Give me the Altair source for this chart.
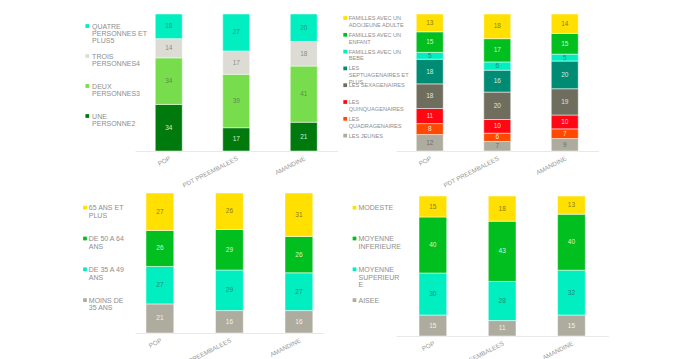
import altair as alt
import pandas as pd

FONT = "Liberation Sans"

cats = ["POP", "PDT PREEMBALEES", "AMANDINE"]

# colours
TURQ = "#00EEC0"
LTGRAY = "#DCDCD5"
LTGREEN = "#77DD4C"
DKGREEN = "#007A0C"
YELLOW = "#FFE000"
GREEN = "#00BF1E"
TEAL = "#008C74"
DKGRAY = "#6E6D5E"
RED = "#FF0814"
ORANGE = "#FF4800"
GRAY = "#AEAC9E"

# ---- panel 1 : taille du foyer (bottom -> top)
p1_series = ["UNE|PERSONNE2", "DEUX|PERSONNES3", "TROIS|PERSONNES4", "QUATRE|PERSONNES ET|PLUS5"]
p1_values = [[34, 17, 21], [34, 39, 41], [14, 17, 18], [18, 27, 20]]
p1_colors = [DKGREEN, LTGREEN, LTGRAY, TURQ]
p1_lcolors = ["#d2ecd2", "#5f8f4a", "#8c8c88", "#2f8f7f"]

# ---- panel 2 : cycle de vie
p2_series = ["LES JEUNES", "LES|QUADRAGENAIRES", "LES|QUINQUAGENAIRES", "LES SEXAGENAIRES",
             "LES|SEPTUAGENAIRES ET|PLUS", "FAMILLES AVEC UN|BEBE", "FAMILLES AVEC UN|ENFANT",
             "FAMILLES AVEC UN|ADO/JEUNE ADULTE"]
p2_values = [[12, 7, 9], [8, 6, 7], [11, 10, 10], [18, 20, 19], [18, 16, 20], [5, 6, 5],
             [15, 17, 15], [13, 18, 14]]
p2_colors = [GRAY, ORANGE, RED, DKGRAY, TEAL, TURQ, GREEN, YELLOW]
p2_lcolors = ["#6e6e66", "#ffe6c8", "#ffd6d6", "#e2e2da", "#c8efe6", "#1f8a78", "#d6f6d6", "#8c7c1c"]

# ---- panel 3 : age
p3_series = ["MOINS DE|35 ANS", "DE 35 A 49|ANS", "DE 50 A 64|ANS", "65 ANS ET|PLUS"]
p3_values = [[21, 16, 16], [27, 29, 27], [26, 29, 26], [27, 26, 31]]
p3_colors = [GRAY, TURQ, GREEN, YELLOW]
p3_lcolors = ["#f2f2ec", "#1f8a78", "#d6f6d6", "#8c7c1c"]

# ---- panel 4 : revenus
p4_series = ["AISEE", "MOYENNE|SUPERIEUR|E", "MOYENNE|INFERIEURE", "MODESTE"]
p4_values = [[15, 11, 15], [30, 28, 32], [40, 43, 40], [15, 18, 13]]
p4_colors = [GRAY, TURQ, GREEN, YELLOW]
p4_lcolors = ["#f2f2ec", "#1f8a78", "#d6f6d6", "#8c7c1c"]


def legend_chart(series, colors, sq_x, dx, fs, lh, pad, width, height):
    df = pd.DataFrame({"key": series, "c": colors})
    dom = list(reversed(series))
    y = alt.Y("key:N", scale=alt.Scale(type="point", domain=dom, padding=pad), axis=None)
    sq = alt.Chart(df).mark_square(size=14, opacity=1).encode(
        x=alt.value(sq_x), y=y, color=alt.Color("c:N", scale=None))
    tx = alt.Chart(df).mark_text(
        align="left", baseline="alphabetic", dx=dx, dy=0.36 * fs, fontSize=fs,
        lineHeight=lh, lineBreak="|", color="#8e8e8e", font=FONT).encode(
        x=alt.value(sq_x), y=y, text="key:N")
    return alt.layer(sq, tx).properties(width=width, height=height)


def bars_chart(series, values, colors, lcolors, width, height, pad_outer=0.3, ytop=1.0):
    rows = []
    for i, s in enumerate(series):
        for j, c in enumerate(cats):
            rows.append({"cat": c, "series": s, "idx": i, "v": values[i][j],
                         "c": colors[i], "lc": lcolors[i]})
    df = pd.DataFrame(rows)
    base = alt.Chart(df).transform_stack(
        stack="v", groupby=["cat"], sort=[alt.SortField("idx", order="ascending")],
        as_=["v0", "v1"], offset="normalize").transform_calculate(
        mid="(datum.v0 + datum.v1) / 2")
    x = alt.X("cat:N", sort=cats, title=None,
              scale=alt.Scale(paddingInner=0.6, paddingOuter=pad_outer),
              axis=alt.Axis(labelAngle=-27, labelAlign="right", labelBaseline="top",
                            labelFontSize=6.3, labelColor="#9a9a9a", labelFont=FONT,
                            labelPadding=4, ticks=False, domainColor="#e8e8e8",
                            domainWidth=1, grid=False, labelOverlap=False, labelLimit=300))
    ysc = alt.Scale(domain=[0, ytop], nice=False, zero=True)
    bars = base.mark_bar(stroke="white", strokeWidth=0.5).encode(
        x=x, y=alt.Y("v0:Q", scale=ysc, axis=None), y2="v1:Q",
        color=alt.Color("c:N", scale=None))
    labels = base.mark_text(fontSize=6.5, font=FONT, baseline="middle").encode(
        x=x, y=alt.Y("mid:Q", scale=ysc, axis=None), text="v:Q",
        color=alt.Color("lc:N", scale=None))
    return alt.layer(bars, labels).properties(width=width, height=height)


panels = [
    legend_chart(p1_series, p1_colors, 7.3, 4.8, 7.0, 7.3, 0.4, 55, 114),
    bars_chart(p1_series, p1_values, p1_colors, p1_lcolors, 202.5, 137),
    legend_chart(p2_series, p2_colors, 7.2, 3.5, 5.6, 6.8, 0.238, 57.5, 125.6),
    bars_chart(p2_series, p2_values, p2_colors, p2_lcolors, 202.5, 137),
    legend_chart(p3_series, p3_colors, 5, 3.8, 7, 7.7, 0.477, 55, 121.8),
    bars_chart(p3_series, p3_values, p3_colors, p3_lcolors, 188.8, 140, pad_outer=0.158),
    legend_chart(p4_series, p4_colors, 16.5, 4, 7, 7.7, 0.477, 57.5, 121.8),
    bars_chart(p4_series, p4_values, p4_colors, p4_lcolors, 212.3, 143, pad_outer=0.332,
               ytop=143 / 140),
]

chart = alt.concat(
    *panels, columns=4, spacing={"row": 42, "column": 0}, bounds="flush", align="each",
).properties(
    padding={"left": 72, "top": 5, "right": 0, "bottom": 0},
    background="white",
).configure(font=FONT).configure_view(stroke=None)

chart.save("out.html", embed_options={"renderer": "svg", "actions": False})
